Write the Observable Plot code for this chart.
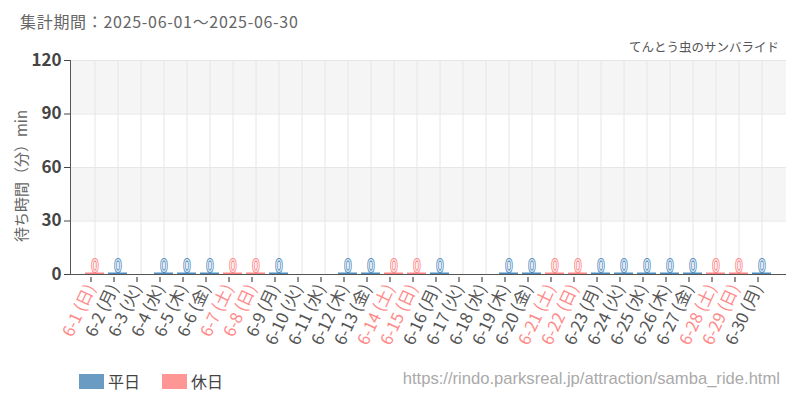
<!DOCTYPE html>
<html>
<head>
<meta charset="utf-8">
<script src="https://cdn.jsdelivr.net/npm/d3@7"></script>
<script src="https://cdn.jsdelivr.net/npm/@observablehq/plot@0.6"></script>
<style>
  body { margin: 0; background: #fff; font-family: "Noto Sans CJK JP", "Noto Sans", sans-serif; }
  #wrap { position: relative; width: 800px; height: 400px; overflow: hidden; }
  #chart { position: absolute; left: 0; top: 0; }
  .title { position: absolute; left: 20px; top: 9px; font-size: 16px; letter-spacing: 0.7px; color: #666; white-space: nowrap; }
  .sub { position: absolute; right: 21px; top: 37px; font-size: 12.5px; color: #555; white-space: nowrap; }
  .ylab { position: absolute; left: 20px; top: 176px; font-size: 15px; color: #666; white-space: nowrap; transform: translate(-50%, -50%) rotate(-90deg); }
  .legend { position: absolute; left: 79px; top: 369px; font-size: 16px; color: #444; display: flex; align-items: center; }
  .legend span.sw { display: inline-block; width: 25px; height: 15px; margin-right: 4px; }
  .legend span.lab { margin-right: 22px; }
  .url { position: absolute; right: 20px; top: 369px; font-size: 16.6px; color: #aaa; font-family: "Liberation Sans", sans-serif; white-space: nowrap; }
</style>
</head>
<body>
<div id="wrap">
  <div id="chart"></div>
  <div class="title">集計期間：2025-06-01～2025-06-30</div>
  <div class="sub">てんとう虫のサンバライド</div>
  <div class="ylab">待ち時間（分）min</div>
  <div class="legend"><span class="sw" style="background:#6a9bc3"></span><span class="lab">平日</span><span class="sw" style="background:#ff9696"></span><span class="lab">休日</span></div>
  <div class="url">https://rindo.parksreal.jp/attraction/samba_ride.html</div>
</div>
<script>
const days = ["6-1","6-2","6-3","6-4","6-5","6-6","6-7","6-8","6-9","6-10",
  "6-11","6-12","6-13","6-14","6-15","6-16","6-17","6-18","6-19","6-20",
  "6-21","6-22","6-23","6-24","6-25","6-26","6-27","6-28","6-29","6-30"];
const dayNames = ["日","月","火","水","木","金","土","日","月","火",
  "水","木","金","土","日","月","火","水","木","金",
  "土","日","月","火","水","木","金","土","日","月"];
const holidayFlags = [1,0,0,0,0,0,1,1,0,0, 0,0,0,1,1,0,0,0,0,0, 1,1,0,0,0,0,0,1,1,0];
const waitValues = [0,0,null,0,0,0,0,0,0,null, null,0,0,0,0,0,null,null,0,0, 0,0,0,0,0,0,0,0,0,0];
const yTicks = [0,30,60,90,120];

const weekdayColor = "#4f8cbf";
const holidayColor = "#ff8383";

const rows = days.map((d, i) => ({day: d, name: dayNames[i], holiday: holidayFlags[i] === 1, value: waitValues[i]}));
const labelOf = Object.fromEntries(rows.map(r => [r.day, `${r.day} (${r.name})`]));
const withData = rows.filter(r => r.value != null);
const weekdayRows = withData.filter(r => !r.holiday);
const holidayRows = withData.filter(r => r.holiday);
const weekdayDays = rows.filter(r => !r.holiday).map(r => r.day);
const holidayDays = rows.filter(r => r.holiday).map(r => r.day);
const font = "'Noto Sans CJK JP', 'Noto Sans', sans-serif";
const zeroFont = "'Liberation Sans', sans-serif";

const chart = Plot.plot({
  width: 800,
  height: 400,
  marginTop: 60,
  marginBottom: 126,
  marginLeft: 70,
  marginRight: 14,
  style: {fontFamily: font, background: "transparent", overflow: "visible"},
  x: {type: "band", domain: days, padding: 0, axis: null},
  y: {domain: [0, 120], axis: null},
  marks: [
    Plot.rect([[90, 120], [30, 60]], {y1: d => d[0], y2: d => d[1], fill: "#f5f5f5"}),
    Plot.gridX(days, {stroke: "#e6e6e6", strokeOpacity: 1}),
    Plot.gridY(yTicks, {stroke: "#e6e6e6", strokeOpacity: 1}),
    Plot.axisY(yTicks, {tickSize: 6, tickPadding: 3, fontSize: 17, fontWeight: 600, color: "#444", label: null}),
    Plot.axisX(weekdayDays, {tickRotate: -65, tickSize: 5, tickPadding: 3, fontSize: 16.5, fill: "#555", stroke: "#222", tickFormat: d => labelOf[d], label: null, dx: -4, dy: 3}),
    Plot.axisX(holidayDays, {tickRotate: -65, tickSize: 5, tickPadding: 3, fontSize: 16.5, fill: "#ff8a8a", stroke: "#222", tickFormat: d => labelOf[d], label: null, dx: -4, dy: 3}),
    Plot.tickY(weekdayRows, {x: "day", y: "value", stroke: weekdayColor, strokeWidth: 2, insetLeft: 2, insetRight: 2, dy: -1}),
    Plot.tickY(holidayRows, {x: "day", y: "value", stroke: holidayColor, strokeWidth: 2, insetLeft: 2, insetRight: 2, dy: -1}),
    Plot.ruleY([0], {stroke: "#555"}),
    Plot.frame({anchor: "left", stroke: "#555"}),
    Plot.text(weekdayRows, {x: "day", y: "value", text: d => String(d.value), lineAnchor: "bottom", dy: -3, fontSize: 19, fontFamily: zeroFont, fill: "#e8f0f7", stroke: weekdayColor, strokeWidth: 2.2}),
    Plot.text(holidayRows, {x: "day", y: "value", text: d => String(d.value), lineAnchor: "bottom", dy: -3, fontSize: 19, fontFamily: zeroFont, fill: "#fff0f0", stroke: holidayColor, strokeWidth: 2.2})
  ]
});
d3.select(chart).selectAll("text").each(function() {
  let el = this, isZero = false;
  while (el && el !== chart) {
    const f = el.getAttribute && el.getAttribute("fill");
    if (f === "#e8f0f7" || f === "#fff0f0") { isZero = true; break; }
    el = el.parentNode;
  }
  if (!isZero) return;
  const t = this.getAttribute("transform");
  if (t) {
    this.setAttribute("transform", t + " scale(0.65,1)");
  } else {
    const x = +this.getAttribute("x") || 0, y = +this.getAttribute("y") || 0;
    this.removeAttribute("x"); this.removeAttribute("y");
    this.setAttribute("transform", `translate(${x},${y}) scale(0.65,1)`);
  }
});
document.getElementById("chart").appendChild(chart);
</script>
</body>
</html>
